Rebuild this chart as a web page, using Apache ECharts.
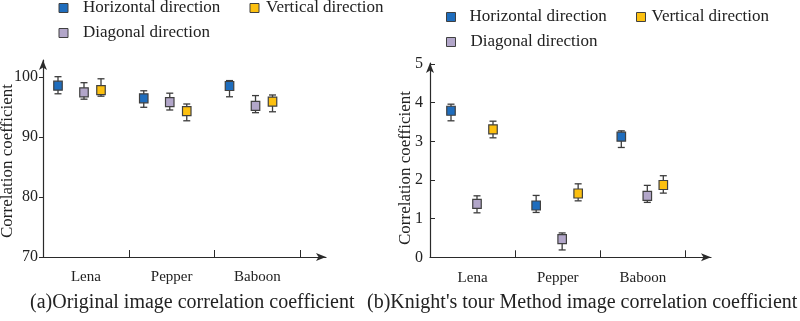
<!DOCTYPE html>
<html><head><meta charset="utf-8">
<script src="https://cdn.jsdelivr.net/npm/echarts@6/dist/echarts.min.js"></script>
<style>html,body{margin:0;padding:0;background:#fff}#c{width:800px;height:321px}</style>
</head><body><div id="c"></div>
<script>
const categories = ['Lena', 'Pepper', 'Baboon'];
const seriesNames = ['Horizontal direction', 'Diagonal direction', 'Vertical direction'];
const origYTicks = [70, 80, 90, 100];
const knightYTicks = [0, 1, 2, 3, 4, 5];

// (a) Original image correlation coefficient
const origHorizontal = [98.55, 96.45, 98.5];
const origHorizontalLow = [97.2, 94.95, 96.7];
const origHorizontalHigh = [100.05, 97.7, 99.4];
const origDiagonal = [97.45, 95.8, 95.2];
const origDiagonalLow = [96.3, 94.5, 94.05];
const origDiagonalHigh = [99.05, 97.3, 96.9];
const origVertical = [97.8, 94.3, 95.9];
const origVerticalLow = [96.8, 92.7, 94.2];
const origVerticalHigh = [99.7, 95.5, 97.0];

// (b) Knight's tour Method image correlation coefficient
const knightHorizontal = [3.79, 1.34, 3.12];
const knightHorizontalLow = [3.53, 1.16, 2.84];
const knightHorizontalHigh = [3.96, 1.60, 3.27];
const knightDiagonal = [1.38, 0.47, 1.59];
const knightDiagonalLow = [1.15, 0.19, 1.42];
const knightDiagonalHigh = [1.59, 0.63, 1.86];
const knightVertical = [3.31, 1.65, 1.87];
const knightVerticalLow = [3.09, 1.46, 1.66];
const knightVerticalHigh = [3.52, 1.90, 2.11];

const colors = {'Horizontal direction': '#1f6dbd', 'Diagonal direction': '#b2a6c9', 'Vertical direction': '#fcc010'};
const FONT = '"Liberation Serif", "Times New Roman", serif';

function build(v, lo, hi) { return v.map((d, i) => [i, d, lo[i], hi[i]]); }

function renderer(offset) {
  return function (params, api) {
    const c = api.coord([api.value(0), api.value(1)]);
    const x = c[0] + offset, y = c[1];
    const yl = api.coord([api.value(0), api.value(2)])[1];
    const yh = api.coord([api.value(0), api.value(3)])[1];
    const ls = {stroke: '#3c3c3c', lineWidth: 1.3};
    const w = 8.5, h = 9, cap = 3.5;
    return {type: 'group', children: [
      {type: 'line', shape: {x1: x, y1: yh, x2: x, y2: yl}, style: ls},
      {type: 'line', shape: {x1: x - cap, y1: yh, x2: x + cap, y2: yh}, style: ls},
      {type: 'line', shape: {x1: x - cap, y1: yl, x2: x + cap, y2: yl}, style: ls},
      {type: 'rect', shape: {x: x - w / 2, y: y - h / 2, width: w, height: h},
        style: {fill: api.visual('color'), stroke: '#404040', lineWidth: 1.2}}
    ]};
  };
}

const origOffsets = [15, 41, 58];
const knightOffsets = [21, 47, 63];

function makeSeries(idx, data, offsets) {
  return seriesNames.map((name, k) => ({
    type: 'custom', name: name, xAxisIndex: idx, yAxisIndex: idx,
    itemStyle: {color: colors[name], borderColor: '#404040', borderWidth: 1},
    renderItem: renderer(offsets[k]), data: data[k], z: 3
  }));
}

const series = [].concat(
  makeSeries(0, [build(origHorizontal, origHorizontalLow, origHorizontalHigh),
                 build(origDiagonal, origDiagonalLow, origDiagonalHigh),
                 build(origVertical, origVerticalLow, origVerticalHigh)], origOffsets),
  makeSeries(1, [build(knightHorizontal, knightHorizontalLow, knightHorizontalHigh),
                 build(knightDiagonal, knightDiagonalLow, knightDiagonalHigh),
                 build(knightVertical, knightVerticalLow, knightVerticalHigh)], knightOffsets)
);

function xAxis(idx) {
  return {
    type: 'value', gridIndex: idx, min: 0, max: 3.3, interval: 1,
    axisLine: {show: true, lineStyle: {color: '#2a2a2a', width: 1.2}, symbol: ['none', 'arrow'], symbolSize: [6, 10], symbolOffset: [0, 0]},
    axisTick: {show: true, inside: true, length: 7, customValues: [1, 2, 3], lineStyle: {color: '#2a2a2a'}},
    axisLabel: {customValues: [0.5, 1.5, 2.5], formatter: v => categories[Math.floor(v)], margin: 13,
      fontFamily: FONT, fontSize: 15, color: '#222'},
    splitLine: {show: false}
  };
}

function legend(name, left, top, padLeft) {
  return {data: [name], left: left, top: top, padding: 0, itemWidth: 9, itemHeight: 9, icon: 'rect',
    itemStyle: {borderColor: '#404040', borderWidth: 1}, selectedMode: false,
    textStyle: {fontFamily: FONT, fontSize: 17, color: '#222', lineHeight: 17, padding: [0, 0, 0, padLeft]}};
}

const option = {
  animation: false,
  backgroundColor: '#fff',
  grid: [
    {left: 43, width: 283, top: 60, bottom: 64},
    {left: 430, width: 281, top: 63, bottom: 63.7}
  ],
  xAxis: [xAxis(0), xAxis(1)],
  yAxis: [
    {type: 'value', gridIndex: 0, min: 70, max: 102.83, interval: 10,
      axisLine: {show: true, lineStyle: {color: '#2a2a2a', width: 1.2}, symbol: ['none', 'arrow'], symbolSize: [6, 10], symbolOffset: [0, 0]},
      axisTick: {show: true, inside: false, length: 4, customValues: origYTicks, lineStyle: {color: '#2a2a2a'}},
      axisLabel: {customValues: origYTicks, margin: 5, fontFamily: FONT, fontSize: 16, color: '#222'},
      splitLine: {show: false}},
    {type: 'value', gridIndex: 1, min: 0, max: 5.025, interval: 1,
      axisLine: {show: true, lineStyle: {color: '#2a2a2a', width: 1.2}, symbol: ['none', 'arrow'], symbolSize: [6, 10], symbolOffset: [0, 0]},
      axisTick: {show: true, inside: true, length: 5, customValues: knightYTicks, lineStyle: {color: '#2a2a2a'}},
      axisLabel: {customValues: knightYTicks, margin: 7, fontFamily: FONT, fontSize: 16, color: '#222'},
      splitLine: {show: false}}
  ],
  legend: [
    legend('Horizontal direction', 58.5, -0.5, 10),
    legend('Vertical direction', 249.5, -0.5, 2),
    legend('Diagonal direction', 58.5, 24.5, 10),
    legend('Horizontal direction', 446, 8.5, 9),
    legend('Vertical direction', 636, 8.5, 1),
    legend('Diagonal direction', 446, 33.5, 10)
  ],
  title: [
    {text: '(a)Original image correlation coefficient', left: 30, top: 293, padding: 0,
      textStyle: {fontFamily: FONT, fontSize: 20, fontWeight: 'normal', color: '#222'}},
    {text: "(b)Knight's tour Method image correlation coefficient", left: 367, top: 293, padding: 0,
      textStyle: {fontFamily: FONT, fontSize: 20, fontWeight: 'normal', color: '#222'}}
  ],
  graphic: [
    {type: 'text', x: 8, y: 161, rotation: Math.PI / 2,
      style: {text: 'Correlation coefficient', font: '17px ' + FONT, fill: '#222', align: 'center', verticalAlign: 'middle'}},
    {type: 'text', x: 406, y: 168, rotation: Math.PI / 2,
      style: {text: 'Correlation coefficient', font: '17px ' + FONT, fill: '#222', align: 'center', verticalAlign: 'middle'}}
  ],
  series: series
};

echarts.init(document.getElementById('c'), null, {renderer: 'canvas'}).setOption(option);
</script>
</body></html>
